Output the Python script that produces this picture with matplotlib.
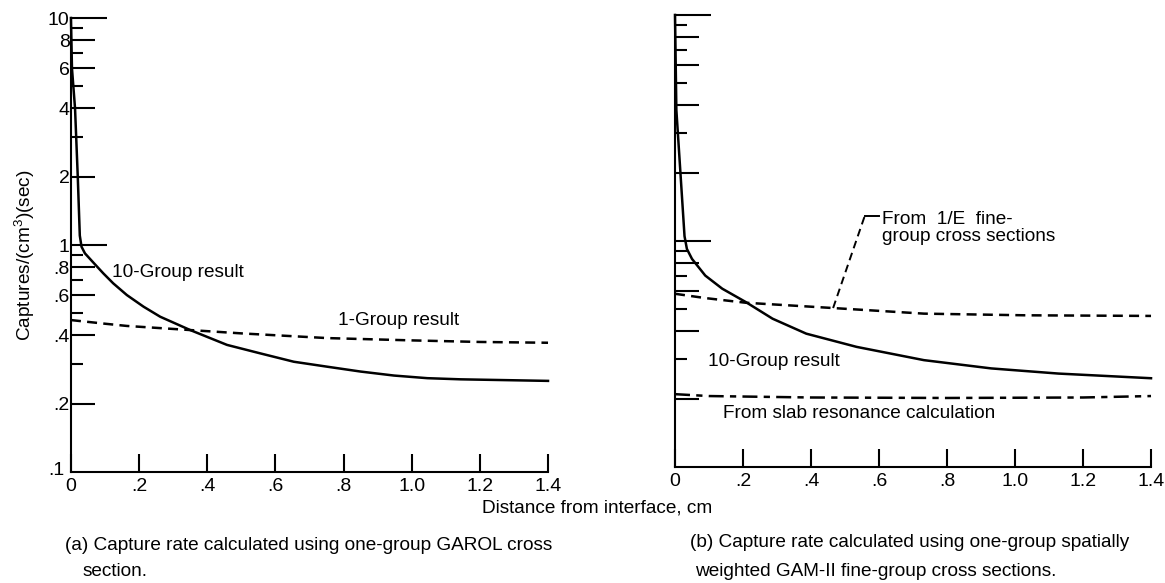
import matplotlib
matplotlib.use("Agg")
import matplotlib.pyplot as plt
from matplotlib.ticker import FixedLocator, NullFormatter
from matplotlib.transforms import ScaledTranslation

plt.rcParams['font.family'] = ['Liberation Sans', 'DejaVu Sans']
plt.rcParams['mathtext.default'] = 'regular'

# ---- data ----
# (a) one-group GAROL cross section
a_ten_x = [0.0, 0.003, 0.012, 0.020, 0.026, 0.031, 0.041, 0.066, 0.095, 0.124, 0.164,
           0.213, 0.262, 0.35, 0.458, 0.556, 0.654, 0.752, 0.85, 0.948, 1.046, 1.144, 1.4]
a_ten_y = [10.0, 6.0, 4.0, 2.0, 1.1, 0.983, 0.919, 0.836, 0.750, 0.678, 0.602,
           0.535, 0.483, 0.422, 0.363, 0.333, 0.306, 0.291, 0.277, 0.266, 0.259, 0.256, 0.252]
a_one_x = [0.0, 0.1, 0.164, 0.35, 0.5, 0.752, 1.0, 1.2, 1.4]
a_one_y = [0.467, 0.45, 0.44, 0.422, 0.408, 0.389, 0.38, 0.374, 0.371]

# (b) spatially weighted GAM-II fine-group cross sections
b_ten_x = [0.0, 0.004, 0.016, 0.028, 0.035, 0.05, 0.089, 0.139, 0.208, 0.287, 0.386,
           0.534, 0.732, 0.93, 1.128, 1.4]
b_ten_y = [10.0, 3.8, 2.0, 1.05, 0.922, 0.833, 0.703, 0.615, 0.537, 0.453, 0.389,
           0.340, 0.297, 0.273, 0.259, 0.247]
b_fine_x = [0.0, 0.089, 0.208, 0.465, 0.732, 1.03, 1.4]
b_fine_y = [0.584, 0.559, 0.533, 0.505, 0.477, 0.469, 0.466]
b_slab_x = [0.0, 0.1, 0.4, 0.8, 1.2, 1.4]
b_slab_y = [0.21, 0.206, 0.203, 0.202, 0.203, 0.206]

x_ticks = [0.0, 0.2, 0.4, 0.6, 0.8, 1.0, 1.2, 1.4]
x_labels = ["0", ".2", ".4", ".6", ".8", "1.0", "1.2", "1.4"]
y_major = [0.1, 0.2, 0.4, 0.6, 0.8, 1, 2, 4, 6, 8, 10]
y_labels = [".1", ".2", ".4", ".6", ".8", "1", "2", "4", "6", "8", "10"]
y_minor = [0.3, 0.5, 0.7, 0.9, 3, 5, 7, 9]

FS = 13.7
LW = 1.8


def setup_axes(ax, show_ylabels):
    ax.set_yscale('log')
    ax.set_xlim(0, 1.4)
    ax.set_ylim(0.1, 10)
    for s in ['top', 'right']:
        ax.spines[s].set_visible(False)
    for s in ['left', 'bottom']:
        ax.spines[s].set_linewidth(1.5)
    ax.set_xticks(x_ticks)
    ax.set_xticklabels(x_labels)
    ax.yaxis.set_major_locator(FixedLocator(y_major))
    ax.yaxis.set_minor_locator(FixedLocator(y_minor))
    ax.yaxis.set_minor_formatter(NullFormatter())
    if show_ylabels:
        ax.set_yticklabels(y_labels)
    else:
        ax.set_yticklabels([])
    ax.tick_params(axis='x', direction='in', length=13, width=1.5, pad=4, labelsize=14)
    ax.tick_params(axis='y', which='major', direction='in', length=17, width=1.5, pad=1, labelsize=14)
    ax.tick_params(axis='y', which='minor', direction='in', length=8.5, width=1.5)
    # longer ticks at 1 and 10, none at .1 (the x axis is there)
    ticks = ax.yaxis.get_major_ticks()
    for i, v in enumerate(y_major):
        if v in (1, 10):
            ticks[i].tick1line.set_markersize(26)
        if v == 0.1:
            ticks[i].tick1line.set_markersize(0)
            lab = ticks[i].label1
            lab.set_transform(lab.get_transform() + ScaledTranslation(-0.05, 0.03, fig.dpi_scale_trans))


fig = plt.figure(figsize=(11.65, 5.83), dpi=100)
ax1 = fig.add_axes([0.0609, 0.1904, 0.4095, 0.7787])
ax2 = fig.add_axes([0.5794, 0.1990, 0.4086, 0.7753])
setup_axes(ax1, True)
setup_axes(ax2, False)

# panel (a)
ax1.plot(a_ten_x, a_ten_y, color='black', lw=LW, clip_on=False)
ax1.plot(a_one_x, a_one_y, color='black', lw=LW, linestyle=(0, (4, 2.5)), clip_on=False)
ax1.text(0.12, 0.76, "10-Group result", fontsize=FS, va='center')
ax1.text(0.785, 0.467, "1-Group result", fontsize=FS, va='center')

# panel (b)
ax2.plot(b_ten_x, b_ten_y, color='black', lw=LW, clip_on=False)
ax2.plot(b_fine_x, b_fine_y, color='black', lw=LW, linestyle=(0, (4, 2.5)), clip_on=False)
ax2.plot(b_slab_x, b_slab_y, color='black', lw=LW, linestyle=(0, (6, 2.5, 2.5, 2.5)), clip_on=False)
ax2.text(0.098, 0.293, "10-Group result", fontsize=FS, va='center')
ax2.text(0.14, 0.173, "From slab resonance calculation", fontsize=FS, va='center')

# leader for the 1/E label
lead_x = [0.465, 0.558]
lead_y = [0.505, 1.29]
ax2.plot(lead_x, lead_y, color='black', lw=1.4, linestyle=(0, (4, 2.5)))
ax2.plot([0.558, 0.600], [1.29, 1.29], color='black', lw=1.4)
ax2.text(0.608, 1.14, "From  1/E  fine-\ngroup cross sections", fontsize=FS,
         va='center', linespacing=1.05)

# shared labels and captions
fig.text(0.0215, 0.5626, "Captures/(cm$^{3}$)(sec)", rotation=90, fontsize=13.7,
         ha='center', va='center')
fig.text(0.4137, 0.1286, "Distance from interface, cm", fontsize=FS, va='center')
fig.text(0.0558, 0.065, "(a) Capture rate calculated using one-group GAROL cross", fontsize=FS, va='center')
fig.text(0.0704, 0.019, "section.", fontsize=FS, va='center')
fig.text(0.5923, 0.069, "(b) Capture rate calculated using one-group spatially", fontsize=FS, va='center')
fig.text(0.5966, 0.019, "weighted GAM-II fine-group cross sections.", fontsize=FS, va='center')

fig.savefig("out.png", dpi=100)
